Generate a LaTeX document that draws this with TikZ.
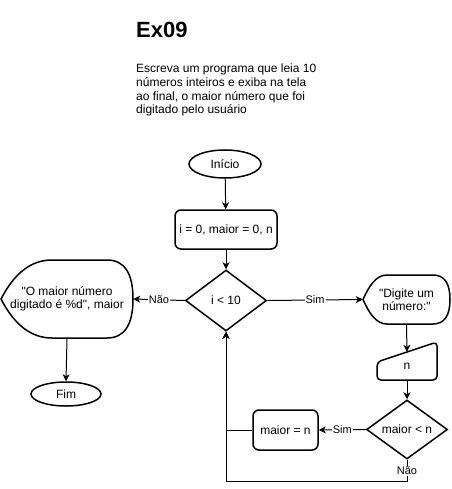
\documentclass[tikz,border=0pt]{standalone}
\usepackage{fontspec}
\setmainfont{Liberation Sans}[Ligatures=TeXOff]
\usetikzlibrary{shapes.geometric,arrows.meta}
\begin{document}
\begin{tikzpicture}[x=1pt,y=-1pt,
  txt/.style={font=\fontsize{12}{13.5}\selectfont, align=center, inner sep=0pt},
  shp/.style={txt, draw, line width=1.5pt},
  outl/.style={draw, line width=1.5pt},
  conn/.style={draw, line width=1pt, -{Stealth[length=7pt,width=7pt,inset=2pt]}},
  lbl/.style={fill=white, font=\fontsize{11}{12}\selectfont, inner sep=1pt}]
\useasboundingbox (0,0) rectangle (451,489);

% title and description
\node[anchor=west, inner sep=0pt, font=\bfseries\fontsize{22}{26}\selectfont] (title) at (136,30) {Ex09};
\node[anchor=north west, align=left, inner sep=0pt, font=\fontsize{12}{13.6}\selectfont] (desc) at (136,64)
  {Escreva um programa que leia 10\\números inteiros e exiba na tela\\ao final, o maior número que foi\\digitado pelo usuário};

% nodes
\node[shp, ellipse, minimum width=72pt, minimum height=28pt] (start) at (225,164) {Início};
\node[shp, rectangle, rounded corners=6pt, minimum width=102pt, minimum height=39pt] (init) at (226,229.5) {i = 0, maior = 0, n};
\node[shp, diamond, aspect=1.33, minimum width=81pt, minimum height=61pt] (cond) at (226,300.5) {i < 10};

% left display
\node[txt, minimum width=132pt, minimum height=78pt] (out) at (67,299) {"O maior número\\digitado é \%d", maior};
\draw[outl] (1,299) .. controls (15,272) and (32,260) .. (52,260) -- (107,260)
  .. controls (124.3,260) and (133,273) .. (133,299)
  .. controls (133,325) and (124.3,338) .. (107,338) -- (52,338)
  .. controls (32,338) and (15,326) .. cycle;
\node[shp, ellipse, minimum width=70pt, minimum height=24pt] (fim) at (66,394) {Fim};

% right display
\node[txt, minimum width=87pt, minimum height=49pt] (ask) at (406.5,299.5) {"Digite um\\número:"};
\draw[outl] (363,299.5) .. controls (369,286) and (376,275) .. (387,275) -- (433,275)
  .. controls (444.3,275) and (450,283.2) .. (450,299.5)
  .. controls (450,315.8) and (444.3,324) .. (433,324) -- (387,324)
  .. controls (376,324) and (369,313) .. cycle;

% manual input
\node[txt, minimum width=60pt, minimum height=28pt] (nin) at (407,366) {n};
\draw[outl, rounded corners=4pt] (377,380) -- (377,362) -- (437,342) -- (437,380) -- cycle;

\node[shp, diamond, aspect=1.37, minimum width=81pt, minimum height=59pt] (mn) at (407,429.5) {maior < n};
\node[shp, rectangle, rounded corners=6pt, minimum width=65pt, minimum height=40pt] (mset) at (285.5,430) {maior = n};

% connectors
\draw[conn] (start) -- (init);
\draw[conn] (init) -- (cond);
\draw[conn] (cond.west) -- node[lbl]{Não} (out.east);
\draw[conn] (out.south) -- (fim.north);
\draw[conn] (cond.east) -- node[lbl]{Sim} (ask.west);
\draw[conn] (ask.south) -- (nin.north);
\draw[conn] (nin.south) -- (mn.north);
\draw[conn] (mn.west) -- node[lbl]{Sim} (mset.east);
\draw[conn] (mset.west) -| (cond.south);
\draw[conn] (mn.south) -- node[lbl]{Não} ++(0,21.5) -| (cond.south);
\end{tikzpicture}
\end{document}
